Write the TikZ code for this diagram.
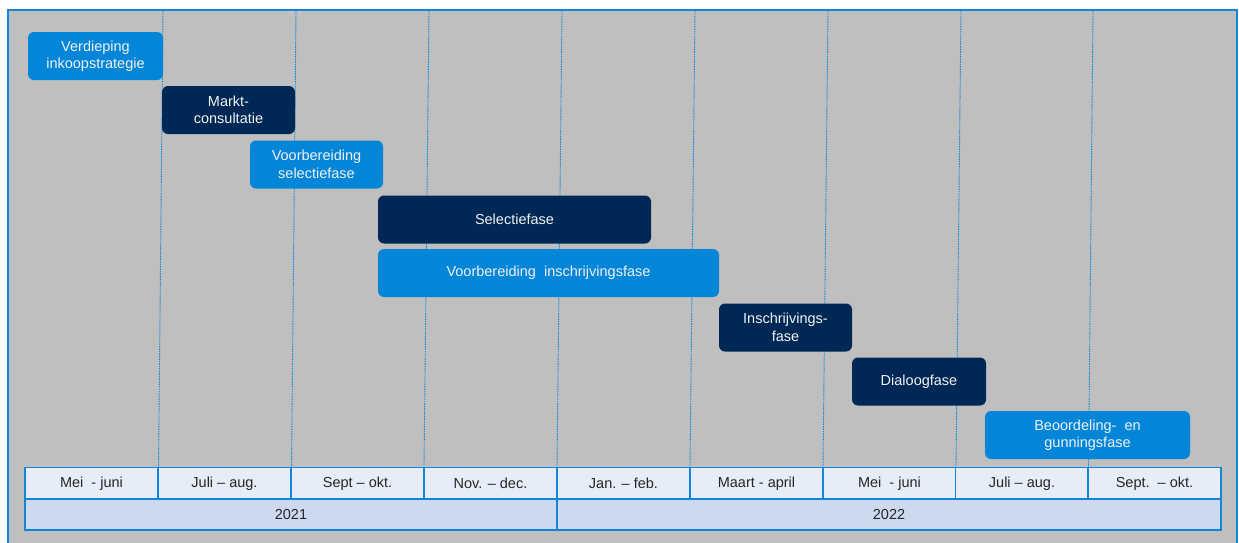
\documentclass[tikz,border=0pt]{standalone}
\usepackage{fontspec}
\setmainfont{Liberation Sans}
\definecolor{bg}{HTML}{BFBFBF}
\definecolor{frameblue}{HTML}{1486D8}
\definecolor{lightbox}{HTML}{0385D8}
\definecolor{darkbox}{HTML}{002856}
\definecolor{monthcell}{HTML}{E6ECF8}
\definecolor{yearcell}{HTML}{CCD9EF}
\definecolor{celltext}{HTML}{262626}
\tikzset{
  phase/.style={rounded corners=6pt, inner sep=0pt, align=center, text=white!95!black,
    font=\fontsize{14.5}{17.5}\selectfont},
  lightphase/.style={phase, fill=lightbox},
  darkphase/.style={phase, fill=darkbox},
  cell/.style={draw=frameblue, line width=1.6pt, inner sep=0pt, text=celltext,
    font=\fontsize{14.5}{17.5}\selectfont},
  gridline/.style={draw=frameblue, line width=0.9pt, dash pattern=on 1.5pt off 1pt},
}
\begin{document}
\begin{tikzpicture}[x=1pt,y=-1pt]
\useasboundingbox (0,0) rectangle (1239,542);
\clip (0,0) rectangle (1239,542);
\fill[white] (0,0) rectangle (1239,542);
\fill[bg] (8,10) rectangle (1237,560);
\draw[frameblue, line width=2pt] (8,560) -- (8,10) -- (1237,10) -- (1237,560);
% dashed grid lines
\foreach \i/\t/\b in {1/163/158.5, 2/296/291.5, 3/429/424, 4/562/557, 5/695/690, 6/828/823, 7/961/956, 8/1093/1088.5}{
  \coordinate (gt\i) at (\t,11);
  \coordinate (gb\i) at (\b,467);
  \draw[gridline] (gt\i) -- (gb\i);
}
% phase boxes
\node[lightphase, minimum width=135pt, minimum height=48pt] (p1) at (95.5,56) {Verdieping\\inkoopstrategie};
\node[darkphase, minimum width=133pt, minimum height=48pt] (p2) at (228.5,110) {Markt-\\consultatie};
\node[lightphase, minimum width=133pt, minimum height=48pt] (p3) at (316.5,164.5) {Voorbereiding\\selectiefase};
\node[darkphase, minimum width=273pt, minimum height=48pt] (p4) at (514.5,219.5) {Selectiefase};
\node[lightphase, minimum width=341pt, minimum height=48pt] (p5) at (548.5,273) {Voorbereiding\ \ inschrijvingsfase};
\node[darkphase, minimum width=133pt, minimum height=48pt] (p6) at (785.5,327.5) {Inschrijvings-\\fase};
\node[darkphase, minimum width=134pt, minimum height=48pt] (p7) at (919,381.5) {Dialoogfase};
\node[lightphase, minimum width=205pt, minimum height=48pt] (p8) at (1087.5,435) {Beoordeling-\ \ en\\gunningsfase};
% timeline table
\foreach \i/\c/\lab in {1/91.5/{Mei\ \ - juni}, 2/224.5/{Juli -- aug.}, 3/357.5/{Sept -- okt.}, 4/490.5/{Nov. -- dec.}, 5/623.5/{Jan. -- feb.}, 6/756.5/{Maart - april}, 7/889.5/{Mei\ \ - juni}, 8/1022/{Juli -- aug.}, 9/1154.5/{Sept.\ \ -- okt.}}{
  \node[cell, fill=monthcell, minimum width=133pt, minimum height=31.5pt] (m\i) at (\c,483.25) {\lab};
}
\node[cell, fill=yearcell, minimum width=532pt, minimum height=31pt] (y1) at (291,514.5) {2021};
\node[cell, fill=yearcell, minimum width=664pt, minimum height=31pt] (y2) at (889,514.5) {2022};
\end{tikzpicture}
\end{document}
